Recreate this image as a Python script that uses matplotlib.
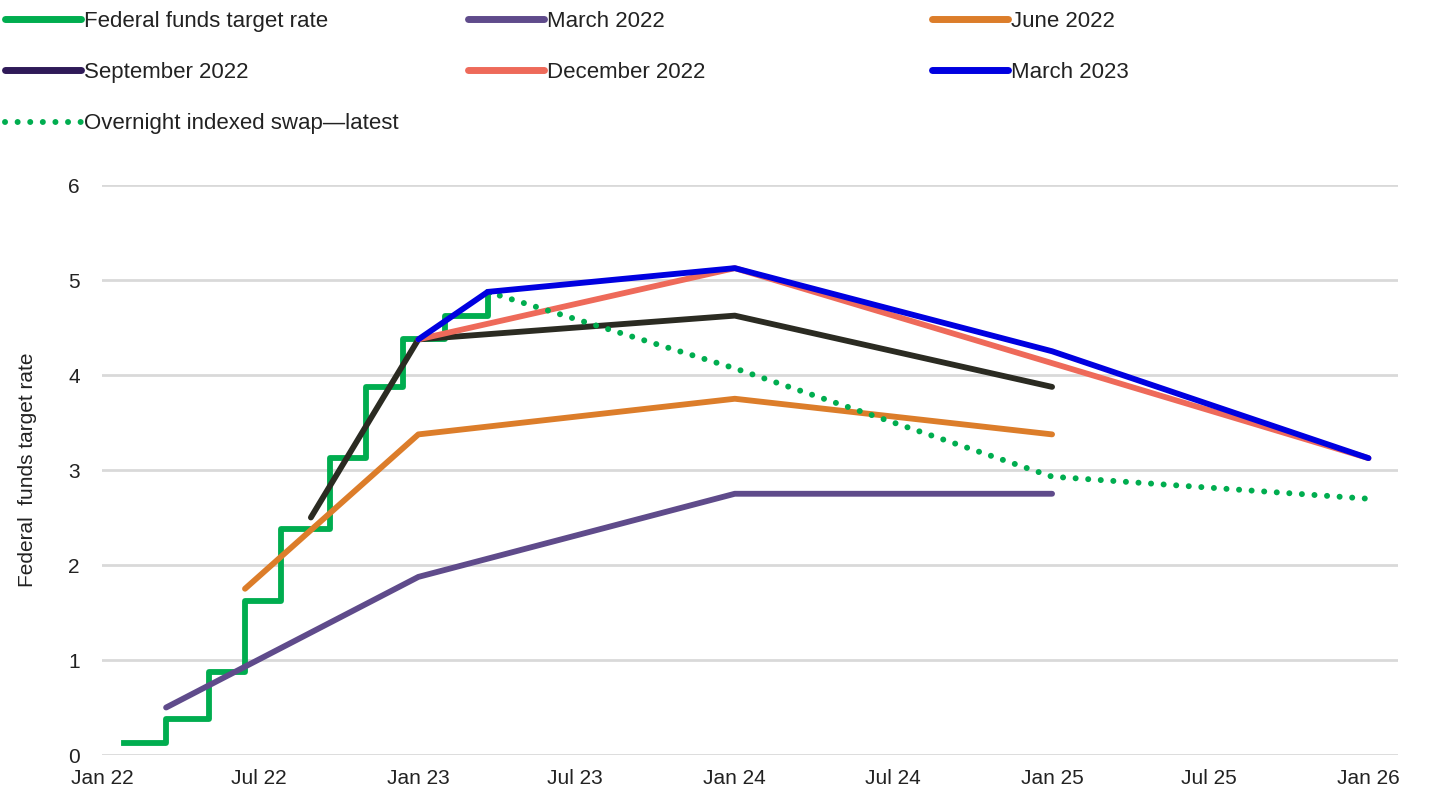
import matplotlib
matplotlib.use('Agg')
import matplotlib.pyplot as plt
from matplotlib.lines import Line2D
from datetime import date

plt.rcParams['font.family'] = ['Liberation Sans', 'DejaVu Sans']

# federal funds target rate (midpoint of range), step after each FOMC move
ffr_dates = [date(2022, 1, 26), date(2022, 3, 16), date(2022, 5, 4), date(2022, 6, 15),
             date(2022, 7, 27), date(2022, 9, 21), date(2022, 11, 2), date(2022, 12, 14),
             date(2023, 2, 1), date(2023, 3, 22)]
ffr_values = [0.125, 0.375, 0.875, 1.625, 2.375, 3.125, 3.875, 4.375, 4.625, 4.875]

# dot plot medians at each release
mar22_dates = [date(2022, 3, 16), date(2023, 1, 1), date(2024, 1, 1), date(2025, 1, 1)]
mar22_values = [0.5, 1.875, 2.75, 2.75]

jun22_dates = [date(2022, 6, 15), date(2023, 1, 1), date(2024, 1, 1), date(2025, 1, 1)]
jun22_values = [1.75, 3.375, 3.75, 3.375]

sep22_dates = [date(2022, 8, 30), date(2023, 1, 1), date(2024, 1, 1), date(2025, 1, 1)]
sep22_values = [2.5, 4.375, 4.625, 3.875]

dec22_dates = [date(2023, 1, 1), date(2024, 1, 1), date(2025, 1, 1), date(2026, 1, 1)]
dec22_values = [4.375, 5.125, 4.125, 3.125]

mar23_dates = [date(2023, 1, 1), date(2023, 3, 22), date(2024, 1, 1), date(2025, 1, 1),
               date(2026, 1, 1)]
mar23_values = [4.375, 4.875, 5.125, 4.25, 3.125]

ois_dates = [date(2023, 3, 22), date(2024, 1, 1), date(2025, 1, 1), date(2025, 12, 28)]
ois_values = [4.875, 4.07, 2.93, 2.7]

tick_dates = [date(y, m, 1) for y in (2022, 2023, 2024, 2025) for m in (1, 7)] + [date(2026, 1, 1)]
tick_labels = ['Jan 22', 'Jul 22', 'Jan 23', 'Jul 23', 'Jan 24', 'Jul 24', 'Jan 25', 'Jul 25', 'Jan 26']

c_green = '#00ad4f'
c_purple = '#5f4b8b'
c_orange = '#dc7d2a'
c_dark = '#2b2b22'
c_dark_legend = '#2f1a58'
c_red = '#ee6a5a'
c_blue = '#0000e0'
c_text = '#222222'

fig = plt.figure(figsize=(14.3, 7.92), dpi=100)
ax = fig.add_axes([0.0713, 0.0467, 0.9063, 0.7197])

lw = 4.2
dotted = (0, (0.01, 2.1))
ax.plot(ffr_dates + [date(2023, 3, 23)], ffr_values + [4.875], drawstyle='steps-post',
        color=c_green, lw=lw, zorder=3)
ax.plot(mar22_dates, mar22_values, color=c_purple, lw=lw, solid_capstyle='round', zorder=3)
ax.plot(jun22_dates, jun22_values, color=c_orange, lw=lw, solid_capstyle='round', zorder=3)
ax.plot(sep22_dates, sep22_values, color=c_dark, lw=lw, solid_capstyle='round', zorder=4)
ax.plot(dec22_dates, dec22_values, color=c_red, lw=lw, solid_capstyle='round', zorder=4)
ax.plot(mar23_dates, mar23_values, color=c_blue, lw=lw, solid_capstyle='round', zorder=5)
ax.plot(ois_dates, ois_values, color=c_green, lw=4.3, linestyle=dotted,
        dash_capstyle='round', zorder=4)

ax.set_xlim(date(2022, 1, 1), date(2026, 2, 4))
ax.set_ylim(0, 6)
ax.set_yticks(range(0, 7))
ax.set_xticks(tick_dates)
ax.set_xticklabels(tick_labels)
ax.tick_params(axis='both', length=0, labelsize=15, colors=c_text)
ax.tick_params(axis='y', pad=16)
ax.tick_params(axis='x', pad=10)
ax.grid(axis='y', color='#d9d9d9', lw=2)
ax.set_axisbelow(True)
for s in ax.spines.values():
    s.set_visible(False)
ax.set_ylabel('Federal  funds target rate', fontsize=15, color=c_text, labelpad=22)

# legend: three columns placed by hand
columns = [
    ([Line2D([], [], color=c_green, lw=5, solid_capstyle='round'),
      Line2D([], [], color=c_dark_legend, lw=5, solid_capstyle='round'),
      Line2D([], [], color=c_green, lw=4.3, linestyle=dotted, dash_capstyle='round')],
     ['Federal funds target rate', 'September 2022', 'Overnight indexed swap\u2014latest'], 5),
    ([Line2D([], [], color=c_purple, lw=5, solid_capstyle='round'),
      Line2D([], [], color=c_red, lw=5, solid_capstyle='round')],
     ['March 2022', 'December 2022'], 468),
    ([Line2D([], [], color=c_orange, lw=5, solid_capstyle='round'),
      Line2D([], [], color=c_blue, lw=5, solid_capstyle='round')],
     ['June 2022', 'March 2023'], 932),
]
for handles, labels, x0 in columns:
    fig.legend(handles, labels, loc='upper left', bbox_to_anchor=(x0 / 1430, 1 - 11 / 792),
               frameon=False, fontsize=16, handlelength=3.4, handletextpad=0.15,
               labelspacing=1.36, borderaxespad=0, borderpad=0, labelcolor=c_text)

fig.savefig('out.png', dpi=100)
